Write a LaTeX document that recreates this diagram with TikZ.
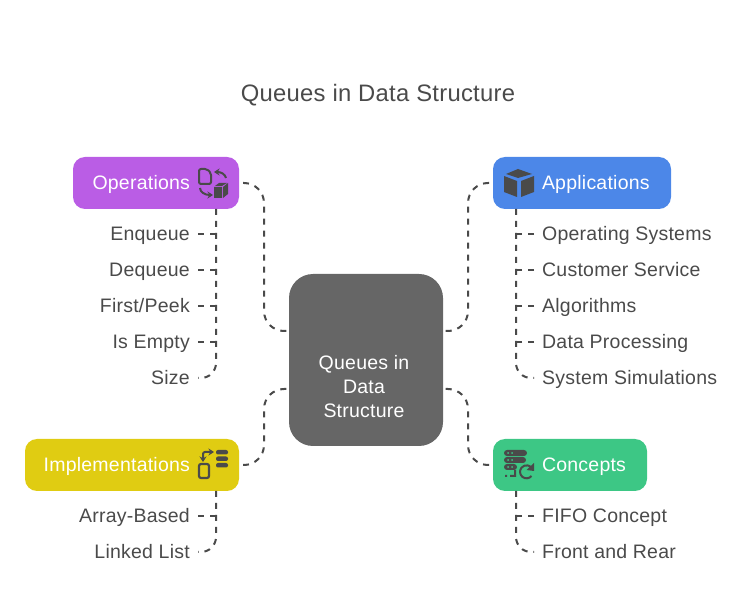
\documentclass[tikz,border=0pt]{standalone}
\usepackage{fontspec}
\usetikzlibrary{arrows.meta}
\setmainfont{Liberation Sans}[LetterSpace=1.2]
\definecolor{inkgray}{HTML}{4A4A4A}
\definecolor{hubgray}{HTML}{666666}
\definecolor{opspurple}{HTML}{BA5DE5}
\definecolor{implyellow}{HTML}{E0CC12}
\definecolor{appblue}{HTML}{4C87E8}
\definecolor{conceptgreen}{HTML}{3DC785}
\tikzset{
	box/.style={rounded corners=12pt,text=white,minimum height=52pt,inner xsep=0pt,inner ysep=0pt,outer xsep=4pt,outer ysep=0pt,text height=17.4pt,text depth=4pt,font=\fontsize{19.5}{24}\selectfont},
	boxleft/.style={box,anchor=east,align=right,execute at end node={\hspace*{49pt}}},
	boxright/.style={box,anchor=west,align=left,execute at begin node={\hspace*{49pt}}},
	leaf/.style={text=inkgray,inner xsep=8pt,inner ysep=0pt,text height=17.4pt,text depth=4pt,font=\fontsize{19.5}{24}\selectfont},
	leafleft/.style={leaf,anchor=east},
	leafright/.style={leaf,anchor=west},
	linkline/.style={draw=inkgray,line width=2pt,dash pattern=on 6pt off 6pt},
	iconline/.style={draw=inkgray,line width=2pt},
}
\begin{document}
\begin{tikzpicture}[x=1pt,y=-1pt,>={Stealth[length=5.5pt,width=7pt]},line join=round]
	\useasboundingbox (0,0) rectangle (756,612);
	\node (title) at (378,95) [text=inkgray,font=\fontsize{23.8}{28}\selectfont] {Queues in Data Structure};
	% centre and the four groups
	\node (hub) at (366,360) [fill=hubgray,rounded corners=24pt,minimum width=154pt,minimum height=172pt,inner sep=0pt,text=white,align=center,font=\fontsize{19.5}{24}\selectfont] {\rule{0pt}{67pt}\hspace*{-4pt}Queues in\\\hspace*{-4pt}Data\\\hspace*{-4pt}Structure};
	\node (ops) at (243,183) [boxleft,fill=opspurple,text width=166pt] {Operations};
	\node (impl) at (243,465) [boxleft,fill=implyellow,text width=214pt] {Implementations};
	\node (app) at (489,183) [boxright,fill=appblue,text width=178pt] {Applications};
	\node (concept) at (489,465) [boxright,fill=conceptgreen,text width=154pt] {Concepts};
	\coordinate (hubnw) at (289,331);
	\coordinate (hubsw) at (289,389);
	\coordinate (hubne) at (443,331);
	\coordinate (hubse) at (443,389);
	\coordinate (opsroot) at (216,209);
	\coordinate (implroot) at (216,491);
	\coordinate (approot) at (516,209);
	\coordinate (conceptroot) at (516,491);
	% leaves
	\node (enqueue) at (198,234) [leafleft] {Enqueue};
	\node (dequeue) at (198,270) [leafleft] {Dequeue};
	\node (peek) at (198,306) [leafleft] {First/Peek};
	\node (isempty) at (198,342) [leafleft] {Is Empty};
	\node (size) at (198,378) [leafleft] {Size};
	\node (arraybased) at (198,516) [leafleft] {Array-Based};
	\node (linkedlist) at (198,552) [leafleft] {Linked List};
	\node (opsystems) at (534,234) [leafright] {Operating Systems};
	\node (service) at (534,270) [leafright] {Customer Service};
	\node (algorithms) at (534,306) [leafright] {Algorithms};
	\node (processing) at (534,342) [leafright] {Data Processing};
	\node (simulations) at (534,378) [leafright] {System Simulations};
	\node (fifo) at (534,516) [leafright] {FIFO Concept};
	\node (frontrear) at (534,552) [leafright] {Front and Rear};
	% links to the centre
	\draw[linkline,rounded corners=20pt] (ops.east)--(264,183)--(264,331)--(hubnw);
	\draw[linkline,rounded corners=20pt] (impl.east)--(264,465)--(264,389)--(hubsw);
	\draw[linkline,rounded corners=20pt] (app.west)--(468,183)--(468,331)--(hubne);
	\draw[linkline,rounded corners=20pt] (concept.west)--(468,465)--(468,389)--(hubse);
	% links to the leaves
	\draw[linkline,rounded corners=15pt] (opsroot)|-(size.east);
	\draw[linkline] (enqueue.east)--(enqueue.east-|opsroot);
	\draw[linkline] (dequeue.east)--(dequeue.east-|opsroot);
	\draw[linkline] (peek.east)--(peek.east-|opsroot);
	\draw[linkline] (isempty.east)--(isempty.east-|opsroot);
	\draw[linkline,rounded corners=15pt] (implroot)|-(linkedlist.east);
	\draw[linkline] (arraybased.east)--(arraybased.east-|implroot);
	\draw[linkline,rounded corners=15pt] (approot)|-(simulations.west);
	\draw[linkline] (opsystems.west)--(opsystems.west-|approot);
	\draw[linkline] (service.west)--(service.west-|approot);
	\draw[linkline] (algorithms.west)--(algorithms.west-|approot);
	\draw[linkline] (processing.west)--(processing.west-|approot);
	\draw[linkline,rounded corners=15pt] (conceptroot)|-(frontrear.west);
	\draw[linkline] (fifo.west)--(fifo.west-|conceptroot);
	% operations icon
	\draw[iconline,rounded corners=2pt] (199,169)--(207,169)--(211,173)--(211,184)--(199,184)--cycle;
	\draw[iconline,->] (226,178) .. controls (225,174) and (221,172) .. (214,172);
	\draw[iconline,->] (200,188) .. controls (200,192) and (205,195) .. (213,195);
	\fill[inkgray] (214,187)--(222,187)--(222,198)--(214,198)--cycle (223,187)--(228,183)--(228,194)--(223,198)--cycle (215,186)--(219,183)--(227,183)--(222,186)--cycle;
	% implementations icon
	\draw[iconline,line width=2.2pt,rounded corners=2pt] (199,464)--(209,464)--(209,478)--(199,478)--cycle;
	\draw[iconline,<->,rounded corners=2pt] (203,462)--(203,452)--(214,452);
	\fill[inkgray,rounded corners=2pt] (216,450)--(228,450)--(228,454.5)--(216,454.5)--cycle (216,456.5)--(228,456.5)--(228,461)--(216,461)--cycle (216,463)--(228,463)--(228,467.5)--(216,467.5)--cycle;
	% applications icon
	\fill[inkgray] (518,169)--(532,174)--(518,178)--(506,174)--cycle (504,176)--(517,181)--(517,197)--(504,192)--cycle (521,181)--(534,176)--(534,192)--(521,197)--cycle;
	% concepts icon
	\fill[inkgray,rounded corners=3pt] (504,450)--(527,450)--(527,456)--(504,456)--cycle (504,457)--(526,457)--(526,463)--(504,463)--cycle (504,464)--(517,464)--(517,470)--(504,470)--cycle;
	\fill[conceptgreen] (508,453)circle(1pt) (512,453)circle(1pt) (508,460)circle(1pt) (512,460)circle(1pt) (508,467)circle(1pt) (512,467)circle(1pt);
	\fill[inkgray] (505,475)rectangle(507,477) (510,475)rectangle(516,477) (514,470)rectangle(516,477);
	\draw[iconline] (531.5,476) arc (40:330:6.5);
	\fill[inkgray] (534,463)--(534,471)--(526.5,470)--cycle;
\end{tikzpicture}
\end{document}
